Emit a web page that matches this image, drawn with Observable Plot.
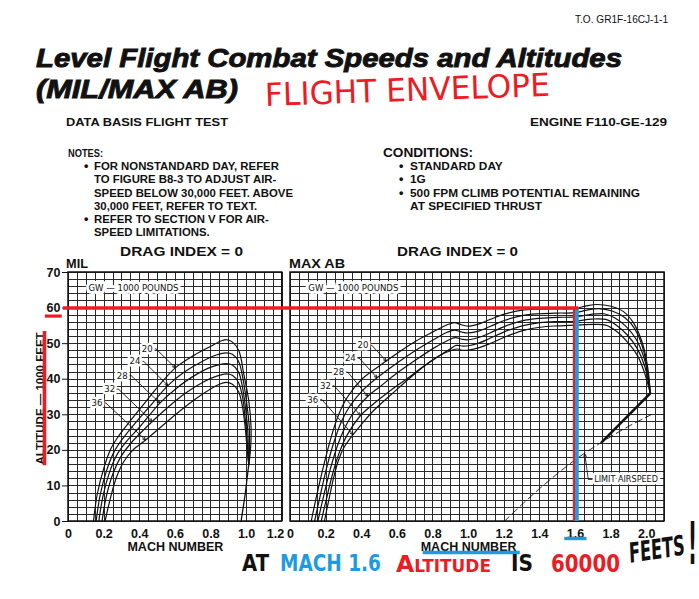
<!DOCTYPE html>
<html><head><meta charset="utf-8">
<script src="https://cdn.jsdelivr.net/npm/d3@7"></script>
<script src="https://cdn.jsdelivr.net/npm/@observablehq/plot@0.6"></script>
<style>
html,body{margin:0;padding:0;background:#fff;width:699px;height:599px;overflow:hidden;}
#page{position:relative;width:699px;height:599px;}
#chart{position:absolute;left:0;top:230px;z-index:1;}
.t{position:absolute;white-space:nowrap;line-height:1;transform-origin:0 50%;z-index:2;}
</style></head><body><div id="page"><div id="chart"></div></div>
<script>
// ---------------- data ----------------
const machTicksMil = [0, 0.2, 0.4, 0.6, 0.8, 1.0, 1.2];
const machTicksAb = [0, 0.2, 0.4, 0.6, 0.8, 1.0, 1.2, 1.4, 1.6, 1.8, 2.0];
const altTicks = [0, 10, 20, 30, 40, 50, 60, 70];
const gwWeights = [20, 24, 28, 32, 36];

// MIL thrust curves [mach, altitude (1000 ft)]
const mil20 = [[0.14,0],[0.162,7.8],[0.2,15.3],[0.237,20.4],[0.284,24.2],[0.349,28.4],[0.424,33.1],[0.5,37.8],[0.6,43.2],[0.704,46.7],[0.797,49.2],[0.86,50.8],[0.89,51.1],[0.919,50.5],[0.956,48.1],[0.984,41.5],[1.012,34],[1.025,26.5],[1.021,19.5],[1.012,16]];
const mil24 = [[0.155,0],[0.178,7.5],[0.215,14.5],[0.255,19.5],[0.3,23],[0.37,27.4],[0.45,32],[0.558,38.2],[0.65,42],[0.75,45],[0.83,46.8],[0.885,47.4],[0.92,47],[0.955,45],[0.98,40],[1.0,33.5],[1.015,26.5],[1.016,20.5],[1.012,16]];
const mil28 = [[0.17,0],[0.193,7],[0.23,13.8],[0.27,18.6],[0.32,22.2],[0.4,26.6],[0.513,33.3],[0.6,37.2],[0.7,40.8],[0.8,43.4],[0.885,44.4],[0.92,44],[0.955,42],[0.976,38],[0.995,31.5],[1.007,25],[1.01,19.5],[1.012,16]];
const mil32 = [[0.188,0],[0.212,7],[0.25,13.5],[0.295,18.3],[0.35,22],[0.47,28.1],[0.56,32.2],[0.66,36.2],[0.76,39.3],[0.84,41],[0.885,41.5],[0.92,41.1],[0.955,39],[0.977,35],[0.992,29],[1.003,23],[1.008,18.5],[1.012,16]];
const mil36 = [[0.205,0],[0.235,6.5],[0.27,12.5],[0.31,16.8],[0.36,20],[0.433,22.9],[0.517,26.5],[0.629,31.2],[0.741,35.4],[0.835,38.3],[0.885,39.1],[0.92,38.6],[0.955,36.5],[0.977,32.2],[0.992,26.5],[1.003,20.5],[1.012,16]];
const milTail = [[1.012,16],[0.993,8],[0.969,0]];

// MAX AB curves
const ab20 = [[0.116,0],[0.15,8],[0.19,16.5],[0.23,24],[0.27,30],[0.32,35],[0.4,40],[0.5,43.8],[0.6,47.3],[0.7,50.6],[0.8,53.3],[0.88,55.3],[0.92,55.9],[0.96,55.3],[1.0,54.9],[1.05,55.4],[1.12,56.8],[1.2,58.3],[1.3,59.4],[1.4,59.7],[1.5,59.8],[1.6,59.9],[1.66,60.6],[1.72,61],[1.8,60.5],[1.87,59],[1.93,55.5],[1.98,49.5],[2.008,42.5],[2.02,36]];
const ab24 = [[0.135,0],[0.17,8],[0.205,15.5],[0.245,22.5],[0.285,28],[0.33,32.2],[0.4,36.6],[0.486,40.4],[0.6,44.6],[0.7,48],[0.8,51],[0.88,53.2],[0.92,53.8],[0.965,53.2],[1.0,53],[1.06,53.6],[1.12,54.8],[1.2,56.5],[1.3,57.9],[1.4,58.4],[1.5,58.6],[1.6,58.7],[1.67,59.5],[1.74,59.8],[1.81,59.1],[1.88,57.2],[1.935,54],[1.98,48.5],[2.005,42],[2.02,36]];
const ab28 = [[0.153,0],[0.19,8],[0.225,15],[0.265,21.5],[0.3,25.8],[0.35,30.3],[0.434,35.2],[0.5,37.8],[0.6,41.8],[0.7,45.3],[0.8,48.6],[0.88,50.8],[0.925,51.7],[0.965,51.2],[1.0,51.1],[1.06,51.8],[1.12,53],[1.2,54.8],[1.3,56.4],[1.4,57.1],[1.5,57.4],[1.6,57.5],[1.68,58.2],[1.76,58.4],[1.82,57.3],[1.885,54.8],[1.94,51.3],[1.985,46],[2.01,40.5],[2.02,36]];
const ab32 = [[0.172,0],[0.205,7],[0.237,13.5],[0.275,19.5],[0.32,24.5],[0.393,29.8],[0.45,32.4],[0.55,36.4],[0.65,40],[0.75,43.7],[0.83,46.4],[0.9,48.6],[0.93,49.5],[0.97,49.3],[1.0,49.4],[1.06,50.2],[1.12,51.5],[1.2,53.3],[1.3,55],[1.4,55.9],[1.5,56.2],[1.6,56.3],[1.69,56.9],[1.77,56.8],[1.83,55.2],[1.89,52.5],[1.945,48.8],[1.99,43.5],[2.02,36]];
const ab36 = [[0.19,0],[0.215,6],[0.243,12.5],[0.27,17.3],[0.3,20.8],[0.351,24.4],[0.4,27.4],[0.467,31.2],[0.55,35],[0.617,38],[0.7,41.6],[0.785,45],[0.85,47],[0.9,48],[0.935,48.5],[0.97,48.1],[1.0,48.2],[1.06,48.9],[1.12,50],[1.2,51.8],[1.3,53.6],[1.4,54.6],[1.5,55],[1.6,55.2],[1.7,55.4],[1.77,55.2],[1.83,53.5],[1.9,50],[1.95,46.5],[1.99,41.5],[2.02,36]];
const abThick = [[2.02,36],[1.748,22.3]];
const limitAirspeed = [[1.2,0],[1.3,4.8],[1.4,9.3],[1.5,13.5],[1.6,17.4],[1.7,20.8],[1.8,23.9],[1.9,26.8],[2.0,29.4],[2.05,30.6]];

// GW labels [mach, alt] and arrow tips
const milLabels = [[0.442,48.5],[0.373,45],[0.302,41],[0.231,37.2],[0.16,33.3]];
const milTips   = [[0.6,43.2],[0.558,38.2],[0.513,33.3],[0.47,28.1],[0.433,22.9]];
const abLabels  = [[0.407,49.5],[0.336,45.9],[0.271,42],[0.196,38.1],[0.125,34.3]];
const abTips    = [[0.538,45.1],[0.486,40.4],[0.434,35.2],[0.393,29.8],[0.351,24.4]];
const limitLabel = [1.705, 11.8];
const limitLeader = [[1.70,11.8],[1.672,11.8],[1.66,16.2]];
const limitTip = [1.652, 19];

// hand-drawn annotation
const annoMach = 1.6, annoAlt = 60;

// ---------------- layout helpers ----------------
const OFF = 1.2465;           // horizontal offset of the MAX AB panel (mach units)
const NARROW = "'Liberation Sans Narrow','Arial Narrow','DejaVu Sans Condensed',sans-serif";
const SANS = "'Liberation Sans',Arial,Helvetica,sans-serif";
const RED = "#ec1c24", BLUE = "#1d9be2", GRID = "#2a2a2a";

const milCurves = [mil20, mil24, mil28, mil32, mil36];
const abCurves = [ab20, ab24, ab28, ab32, ab36];
const rows = [];
gwWeights.forEach((gw, i) => {
  milCurves[i].forEach(([m, a]) => rows.push({key: "mil" + gw, x: m, y: a}));
  abCurves[i].forEach(([m, a]) => rows.push({key: "ab" + gw, x: m + OFF, y: a}));
});
const labelRows = [];
gwWeights.forEach((gw, i) => {
  labelRows.push({gw, lx: milLabels[i][0], ly: milLabels[i][1], tx: milTips[i][0], ty: milTips[i][1]});
  labelRows.push({gw, lx: abLabels[i][0] + OFF, ly: abLabels[i][1], tx: abTips[i][0] + OFF, ty: abTips[i][1]});
});

const vMil = d3.range(0, 25).map(i => i * 0.05);
const vAb = d3.range(0, 43).map(i => i * 0.05 + OFF);
const hLines = d3.range(0, 36).map(i => i * 2);
const fmt = d => d === 0 ? "0" : d.toFixed(1);
const gridOpts = {stroke: GRID, strokeWidth: 1, shapeRendering: "crispEdges"};

const chart = Plot.plot({
  width: 699, height: 365,
  marginLeft: 68, marginRight: 35, marginTop: 42, marginBottom: 74,
  x: {domain: [0, OFF + 2.1], axis: null},
  y: {domain: [0, 70]},
  style: {background: "transparent", fontFamily: SANS, color: "#111"},
  marks: [
    Plot.ruleX(vMil, {y1: 0, y2: 70, ...gridOpts}),
    Plot.ruleX(vAb, {y1: 0, y2: 70, ...gridOpts}),
    Plot.ruleY(hLines, {x1: 0, x2: 1.2, ...gridOpts}),
    Plot.ruleY(hLines, {x1: OFF, x2: OFF + 2.1, ...gridOpts}),
    Plot.rect([{a: 0, b: 1.2}, {a: OFF, b: OFF + 2.1}], {x1: "a", x2: "b", y1: 0, y2: 70, fill: "none", stroke: "#111", strokeWidth: 1.5}),
    Plot.axisY({ticks: altTicks, tickSize: 6, tickPadding: 2, fontSize: 12.5, fontWeight: "bold", label: null, tickFormat: d => d}),
    // curves
    Plot.line(rows, {x: "x", y: "y", z: "key", curve: "catmull-rom", stroke: "#111", strokeWidth: 1.2}),
    Plot.line(milTail, {x: d => d[0], y: d => d[1], stroke: "#111", strokeWidth: 1.3}),
    Plot.line(limitAirspeed, {x: d => d[0] + OFF, y: d => d[1], curve: "catmull-rom", stroke: "#111", strokeWidth: 0.9, strokeDasharray: "7,4"}),
    Plot.line(abThick, {x: d => d[0] + OFF, y: d => d[1], stroke: "#111", strokeWidth: 2.6}),
    // GW boxes
    Plot.text([0.112, OFF + 0.1], {x: d => d, y: 65.6, text: () => "GW — 1000 POUNDS", textAnchor: "start", fontSize: 9.5, fontFamily: NARROW, fill: "#111", stroke: "white", strokeWidth: 6}),
    // GW leaders & labels
    Plot.link(labelRows, {x1: d => d.lx + 0.03, y1: "ly", x2: d => d.lx + 0.05, y2: "ly", stroke: "#111", strokeWidth: 0.8}),
    Plot.arrow(labelRows, {x1: d => d.lx + 0.05, y1: "ly", x2: "tx", y2: "ty", stroke: "#111", strokeWidth: 0.9, headLength: 5, headAngle: 50}),
    Plot.text(labelRows, {x: "lx", y: "ly", text: d => String(d.gw), fontSize: 9.5, fontFamily: NARROW, fill: "#111", stroke: "white", strokeWidth: 5}),
    // limit airspeed label
    Plot.line(limitLeader, {x: d => d[0] + OFF, y: d => d[1], stroke: "#111", strokeWidth: 0.8}),
    Plot.arrow([0], {x1: limitLeader[2][0] + OFF, y1: limitLeader[2][1], x2: limitTip[0] + OFF, y2: limitTip[1], stroke: "#111", strokeWidth: 0.9, headLength: 5, headAngle: 50}),
    Plot.text(["LIMIT AIRSPEED"], {x: limitLabel[0] + OFF, y: limitLabel[1], text: d => d, textAnchor: "start", fontSize: 9, fontFamily: NARROW, fill: "#111", stroke: "white", strokeWidth: 5}),
    // x tick labels
    Plot.text(machTicksMil.filter(t => t < 1.2), {x: d => d, y: 0, dy: 12, text: fmt, fontSize: 12.5, fontWeight: "bold"}),
    Plot.text([1.2], {x: d => d, y: 0, dy: 12, dx: 2, text: fmt, textAnchor: "end", fontSize: 12.5, fontWeight: "bold"}),
    Plot.text(machTicksAb, {x: d => d + OFF, y: 0, dy: 12, text: fmt, fontSize: 12.5, fontWeight: "bold"}),
    // axis titles
    Plot.text(["MACH NUMBER"], {x: 0.6, y: 0, dy: 25, text: d => d, fontSize: 12.5, fontWeight: "bold"}),
    Plot.text(["MACH NUMBER"], {x: OFF + 1.0, y: 0, dy: 25, text: d => d, fontSize: 12.5, fontWeight: "bold"}),
    Plot.text(["ALTITUDE — 1000 FEET"], {x: -0.157, y: 34.6, text: d => d, rotate: -90, fontSize: 11.5, fontWeight: "bold"}),
    // hand-drawn annotation lines
    Plot.ruleX([OFF + annoMach], {y1: 0, y2: annoAlt, dx: -1.5, stroke: RED, strokeWidth: 2.2}),
    Plot.ruleX([OFF + annoMach], {y1: 0, y2: annoAlt, dx: 1.4, stroke: BLUE, strokeWidth: 3.8}),
    Plot.ruleY([annoAlt], {x1: -0.028, x2: OFF + annoMach + 0.018, stroke: RED, strokeWidth: 3.6}),
    Plot.ruleY([annoAlt], {x1: -0.13, x2: -0.035, dy: 8, stroke: RED, strokeWidth: 3.2}),
    Plot.ruleX([-0.135], {y1: 15.7, y2: 53.4, stroke: RED, strokeWidth: 3.6}),
    Plot.ruleY([0], {x1: OFF + annoMach - 0.06, x2: OFF + annoMach + 0.065, dy: 17, stroke: BLUE, strokeWidth: 3.4}),
    Plot.ruleY([0], {x1: OFF + 0.745, x2: OFF + 1.29, dy: 31, stroke: BLUE, strokeWidth: 3.4})
  ]
});
document.getElementById("chart").append(chart);

// ---------------- text around the chart ----------------
const page = document.getElementById("page");
function put(html, o) {
  const d = document.createElement("div");
  d.className = "t";
  d.innerHTML = html;
  const size = o.cap / 0.72;
  d.style.fontSize = size + "px";
  d.style.fontFamily = o.font || SANS;
  d.style.fontWeight = o.weight || "bold";
  d.style.fontStyle = o.italic ? "italic" : "normal";
  d.style.color = o.color || "#111";
  if (o.heavy) d.style.webkitTextStroke = o.heavy + "px " + (o.color || "#111");
  d.style.left = o.x + "px";
  d.style.top = (o.cy - 0.485 * size) + "px";
  page.append(d);
  const w = d.getBoundingClientRect().width;
  d._w = w;
  const s = o.scale || (o.w ? o.w / w : 1);
  d.style.transform = `scaleX(${s})` + (o.rot ? ` rotate(${o.rot}deg)` : "");
  return d;
}
function block(lines, o) {
  const els = lines.map((t, i) => put(t, {...o, cy: o.cys[i], w: null, scale: 1}));
  const s = o.w / els[o.longest]._w;
  els.forEach(e => e.style.transform = `scaleX(${s})`);
}

put("T.O. GR1F-16CJ-1-1", {x: 575, w: 93, cy: 19, cap: 8, weight: "normal"});
put("Level Flight Combat Speeds and Altitudes", {x: 36, w: 586, cy: 58.5, cap: 18.5, italic: true, heavy: 0.9});
put("(MIL/MAX AB)", {x: 36, w: 202, cy: 89.5, cap: 18.5, italic: true, heavy: 0.9});
put("FLIGHT ENVELOPE", {x: 265, w: 285, cy: 95, cap: 23, weight: "normal", color: RED, font: "'DejaVu Sans',sans-serif", rot: -2});
put("DATA BASIS FLIGHT TEST", {x: 66, w: 162, cy: 122, cap: 8});
put("ENGINE F110-GE-129", {x: 530, w: 137, cy: 122, cap: 8});
put("NOTES:", {x: 68, w: 35, cy: 153, cap: 8});
block(["FOR NONSTANDARD DAY, REFER", "TO FIGURE B8-3 TO ADJUST AIR-", "SPEED BELOW 30,000 FEET. ABOVE",
       "30,000 FEET, REFER TO TEXT.", "REFER TO SECTION V FOR AIR-", "SPEED LIMITATIONS."],
      {x: 94, w: 199, cys: [166, 179, 193, 206, 219, 232], cap: 7.6, longest: 2});
put("•", {x: 84, cy: 166, cap: 9});
put("•", {x: 84, cy: 219, cap: 9});
put("CONDITIONS:", {x: 383, w: 90, cy: 152.5, cap: 9.5});
block(["STANDARD DAY", "1G", "500 FPM CLIMB POTENTIAL REMAINING", "AT SPECIFIED THRUST"],
      {x: 410, w: 230, cys: [166, 179, 193, 206], cap: 7.6, longest: 2});
put("•", {x: 399, cy: 166, cap: 9});
put("•", {x: 399, cy: 179, cap: 9});
put("•", {x: 399, cy: 193, cap: 9});
put("DRAG INDEX = 0", {x: 120, w: 123, cy: 252.5, cap: 9});
put("DRAG INDEX = 0", {x: 397, w: 121, cy: 252.5, cap: 9});
put("MIL", {x: 66, w: 22, cy: 263.5, cap: 8.8});
put("MAX AB", {x: 289, w: 56, cy: 263.5, cap: 8.8});

// hand-written line
const HW = "'DejaVu Sans',sans-serif";
put("AT", {x: 242, w: 27, cy: 563, cap: 17, font: HW, color: "#111"});
put("MACH 1.6", {x: 280, w: 101, cy: 563, cap: 17, font: HW, color: BLUE});
put('A<span style="font-size:72%">LTITUDE</span>', {x: 396, w: 95, cy: 564.5, cap: 17, font: HW, color: RED});
put("IS", {x: 511, w: 22, cy: 563, cap: 17, font: HW, color: "#111"});
put("60000", {x: 551, w: 69, cy: 563, cap: 18, font: HW, color: RED});
put("FEETS", {x: 629, w: 56, cy: 553, cap: 20, font: HW, color: "#111", rot: -5});
put("!", {x: 688, w: 9, cy: 543, cap: 42, font: HW, color: "#111"});
</script></body></html>
